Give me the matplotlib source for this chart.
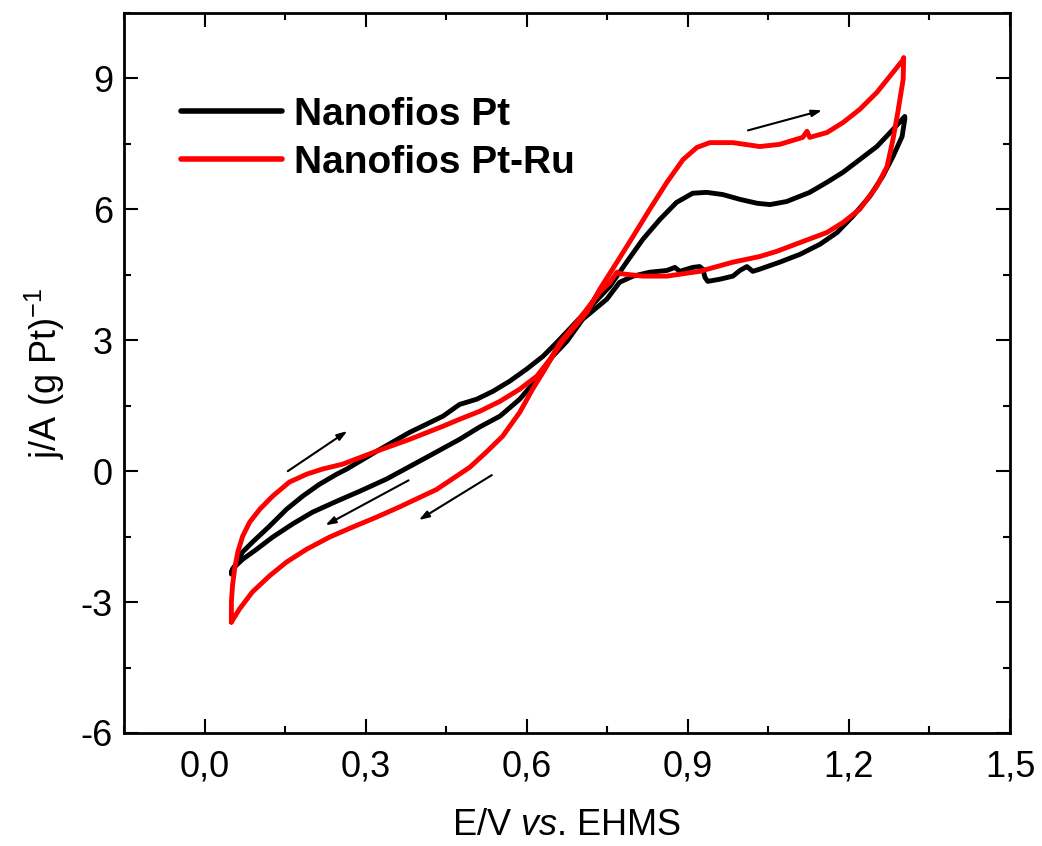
import matplotlib
matplotlib.use("Agg")
import matplotlib.pyplot as plt
from matplotlib.ticker import MultipleLocator, FuncFormatter

plt.rcParams['font.family'] = ['Liberation Sans', 'DejaVu Sans']
plt.rcParams['mathtext.fontset'] = 'custom'
plt.rcParams['mathtext.rm'] = 'Liberation Sans'
plt.rcParams['mathtext.it'] = 'Liberation Sans:italic'

# ---- data (E in V, j in A/g Pt) ----
pt_fwd_E = [0.050, 0.056, 0.071, 0.089, 0.121, 0.153, 0.183, 0.214, 0.246, 0.265, 0.321,
            0.382, 0.444, 0.475, 0.507, 0.537, 0.568, 0.600, 0.630, 0.656, 0.755, 0.786,
            0.816, 0.848, 0.879, 0.909, 0.935, 0.965, 0.997, 1.029, 1.053, 1.084, 1.127,
            1.159, 1.189, 1.220, 1.252, 1.282, 1.304]
pt_fwd_j = [-2.31, -2.18, -1.85, -1.63, -1.26, -0.87, -0.57, -0.30, -0.07, 0.05, 0.46,
            0.89, 1.26, 1.53, 1.65, 1.83, 2.06, 2.34, 2.63, 2.95, 4.24, 4.79,
            5.31, 5.77, 6.16, 6.37, 6.39, 6.34, 6.23, 6.14, 6.11, 6.18, 6.39,
            6.62, 6.85, 7.14, 7.44, 7.83, 8.13]

pt_rev_E = [1.304, 1.299, 1.282, 1.263, 1.239, 1.207, 1.178, 1.146, 1.109, 1.071, 1.034,
            1.021, 1.010, 0.997, 0.984, 0.960, 0.937, 0.932, 0.928, 0.922, 0.909, 0.885,
            0.876, 0.861, 0.829, 0.798, 0.773, 0.749, 0.704, 0.675, 0.648, 0.619, 0.587,
            0.550, 0.512, 0.475, 0.414, 0.363, 0.339, 0.289, 0.246, 0.201, 0.164, 0.127,
            0.097, 0.071, 0.052, 0.050]
pt_rev_j = [8.06, 7.67, 7.21, 6.76, 6.30, 5.84, 5.47, 5.20, 4.97, 4.79, 4.63,
            4.58, 4.69, 4.60, 4.47, 4.40, 4.35, 4.44, 4.63, 4.69, 4.67, 4.58,
            4.67, 4.60, 4.56, 4.47, 4.33, 3.94, 3.48, 2.98, 2.63, 2.11, 1.65,
            1.26, 1.01, 0.73, 0.32, -0.02, -0.18, -0.46, -0.69, -0.94, -1.21, -1.51,
            -1.79, -2.02, -2.24, -2.36]

ptru_fwd_E = [0.050, 0.050, 0.052, 0.056, 0.062, 0.071, 0.084, 0.103, 0.127, 0.158, 0.190,
              0.220, 0.257, 0.321, 0.382, 0.444, 0.475, 0.512, 0.550, 0.587, 0.619, 0.643,
              0.667, 0.712, 0.736, 0.768, 0.798, 0.829, 0.861, 0.891, 0.917, 0.941, 0.984,
              1.034, 1.071, 1.114, 1.122, 1.127, 1.159, 1.189, 1.220, 1.252, 1.282, 1.301]
ptru_fwd_j = [-3.46, -3.00, -2.63, -2.24, -1.85, -1.49, -1.17, -0.87, -0.57, -0.25, -0.07,
              0.05, 0.16, 0.46, 0.73, 1.03, 1.19, 1.37, 1.60, 1.88, 2.18, 2.56,
              2.98, 3.64, 4.17, 4.79, 5.38, 6.00, 6.62, 7.14, 7.42, 7.53, 7.53,
              7.44, 7.49, 7.65, 7.79, 7.65, 7.76, 7.99, 8.29, 8.68, 9.14, 9.43]

ptru_rev_E = [1.302, 1.301, 1.291, 1.282, 1.271, 1.252, 1.220, 1.189, 1.159, 1.109, 1.066,
              1.034, 0.984, 0.922, 0.861, 0.816, 0.773, 0.768, 0.755, 0.736, 0.693, 0.662,
              0.637, 0.611, 0.587, 0.555, 0.525, 0.494, 0.432, 0.363, 0.321, 0.276, 0.233,
              0.190, 0.153, 0.121, 0.089, 0.065, 0.050]
ptru_rev_j = [9.48, 8.98, 8.22, 7.60, 6.98, 6.53, 6.00, 5.70, 5.47, 5.24, 5.04,
              4.92, 4.79, 4.58, 4.47, 4.47, 4.53, 4.56, 4.33, 4.10, 3.41, 2.95,
              2.40, 1.88, 1.35, 0.80, 0.44, 0.09, -0.42, -0.82, -1.05, -1.28, -1.51,
              -1.79, -2.08, -2.40, -2.77, -3.16, -3.46]

# scan-direction arrows: (E_start, j_start, E_end, j_end)
arrows = [(0.155, 0.00, 0.266, 0.92),
          (0.380, -0.21, 0.225, -1.24),
          (0.535, -0.09, 0.399, -1.12),
          (1.012, 7.81, 1.150, 8.27)]

labels = ["Nanofios Pt", "Nanofios Pt-Ru"]

fig = plt.figure(figsize=(10.42, 8.46), dpi=100)
ax = fig.add_axes([0.119, 0.1336, 0.8503, 0.851])

lw = 3.5
l1, = ax.plot(pt_fwd_E + pt_rev_E, pt_fwd_j + pt_rev_j, color='black', lw=lw,
              solid_joinstyle='round', solid_capstyle='round')
l2, = ax.plot(ptru_fwd_E + ptru_rev_E, ptru_fwd_j + ptru_rev_j, color='#ff0000', lw=lw,
              solid_joinstyle='round', solid_capstyle='round')

for (x0, y0, x1, y1) in arrows:
    ax.annotate('', xy=(x1, y1), xytext=(x0, y0),
                arrowprops=dict(arrowstyle='-|>,head_length=0.6,head_width=0.2',
                                color='black', lw=1.5, shrinkA=0, shrinkB=0))

ax.set_xlim(-0.15, 1.5)
ax.set_ylim(-6, 10.5)
ax.xaxis.set_major_locator(MultipleLocator(0.3))
ax.xaxis.set_minor_locator(MultipleLocator(0.15))
ax.yaxis.set_major_locator(MultipleLocator(3))
ax.yaxis.set_minor_locator(MultipleLocator(1.5))
ax.xaxis.set_major_formatter(FuncFormatter(lambda v, p: f"{v:.1f}".replace('.', ',')))
ax.yaxis.set_major_formatter(FuncFormatter(lambda v, p: f"{v:.0f}"))

ax.tick_params(which='both', direction='in', top=True, right=True, width=1.5)
ax.tick_params(which='major', length=10, labelsize=26)
ax.tick_params(axis='x', which='major', pad=12)
ax.tick_params(axis='y', which='major', pad=8)
ax.tick_params(which='minor', length=5)
for s in ax.spines.values():
    s.set_linewidth(2)

ax.set_xlabel(r"E/V $\mathit{vs}$. EHMS", fontsize=26, labelpad=17)
ax.set_ylabel(r"j/A (g Pt)$^{-1}$", fontsize=26, labelpad=10)

leg = ax.legend([l1, l2], labels, loc='upper left', bbox_to_anchor=(0.047, 0.905),
                frameon=False, fontsize=28, handlelength=2.6, handletextpad=0.3,
                labelspacing=0.3, borderaxespad=0)
for t in leg.get_texts():
    t.set_fontweight('bold')
for h in leg.legend_handles:
    h.set_linewidth(4)

fig.savefig("out.png", dpi=100)
